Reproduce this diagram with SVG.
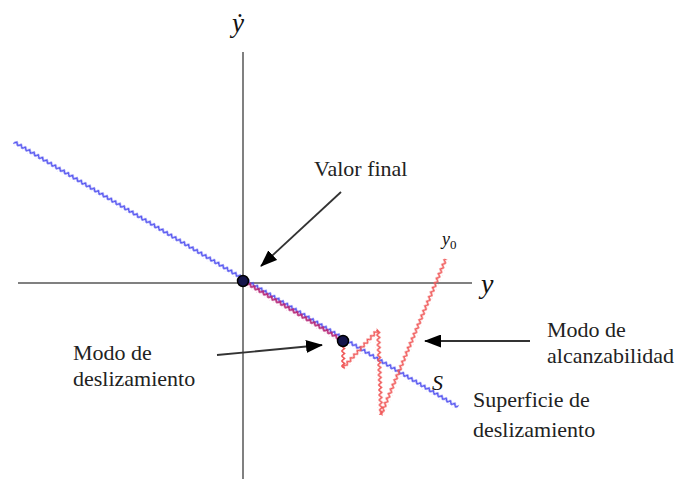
<svg xmlns="http://www.w3.org/2000/svg" width="676" height="479" viewBox="0 0 676 479">
<defs>
<style>
.axis{stroke:#808080;stroke-width:2;fill:none}
.arr{stroke:#333;stroke-width:1.8;fill:none;marker-end:url(#ah)}
.lbl{font-size:22px;fill:#222}
.math{font-style:italic;fill:#111}
.dot{fill:#14144a;stroke:#000;stroke-width:1.5}
</style>
<pattern id="zb" x="0" y="-3" width="5" height="6" patternUnits="userSpaceOnUse"><path d="M0,4.5 L2.5,1.5 L5,4.5" fill="none" stroke="#5050f0" stroke-width="1.6"/></pattern>
<pattern id="zm" x="0" y="-3" width="5" height="6" patternUnits="userSpaceOnUse"><path d="M0,4.5 L2.5,1.5 L5,4.5" fill="none" stroke="#b82a78" stroke-width="1.8"/></pattern>
<pattern id="zr" x="0" y="-3" width="5" height="6" patternUnits="userSpaceOnUse"><path d="M0,4.5 L2.5,1.5 L5,4.5" fill="none" stroke="#f05a5a" stroke-width="1.5"/></pattern>
<marker id="ah" viewBox="0 0 17 13" refX="16" refY="6.5" markerWidth="17" markerHeight="13" markerUnits="userSpaceOnUse" orient="auto"><path d="M0,0 L17,6.5 L0,13 Z" fill="#000"/></marker>
</defs>
<rect width="676" height="479" fill="#fff"/>
<g font-family="'Liberation Serif', 'Times New Roman', serif">
<g id="axes">
<line class="axis" x1="243" y1="52" x2="243" y2="479"/>
<line class="axis" x1="18" y1="283" x2="472" y2="283"/>
<text class="math" x="232" y="32" font-size="27">ẏ</text>
<text class="math" x="481" y="293" font-size="28">y</text>
</g>
<g id="surface">
<g transform="translate(14,142) rotate(30.83)"><rect x="0" y="-3" width="517" height="6" fill="url(#zb)"/></g>
<g transform="translate(243,281) rotate(30.96)"><rect x="0" y="-3" width="117" height="6" fill="url(#zm)"/></g>
<text class="math" x="432" y="390" font-size="22">S</text>
</g>
<g id="trajectory">
<g transform="translate(343,341) rotate(90)"><rect x="0" y="-3" width="27" height="6" fill="url(#zr)"/></g>
<g transform="translate(343,368) rotate(-47.4)"><rect x="0" y="-3" width="52" height="6" fill="url(#zr)"/></g>
<g transform="translate(378,330) rotate(88)"><rect x="0" y="-3" width="85" height="6" fill="url(#zr)"/></g>
<g transform="translate(381,415) rotate(-67.4)"><rect x="0" y="-3" width="169" height="6" fill="url(#zr)"/></g>
<text class="math" x="442" y="245" font-size="18">y<tspan font-style="normal" font-size="13" dy="4">0</tspan></text>
</g>
<g id="origin"><circle class="dot" cx="243" cy="281" r="5.5"/></g>
<g id="reach-point"><circle class="dot" cx="343" cy="341" r="5.5"/></g>
<g id="connectors">
<line class="arr" x1="341" y1="192" x2="261" y2="266"/>
<line class="arr" x1="217" y1="355" x2="322" y2="345"/>
<line class="arr" x1="530" y1="341" x2="425" y2="341"/>
</g>
<g id="label-valor"><text class="lbl" x="314" y="176">Valor final</text></g>
<g id="label-deslizamiento"><text class="lbl" x="73" y="360">Modo de</text><text class="lbl" x="73" y="386">deslizamiento</text></g>
<g id="label-alcanzabilidad"><text class="lbl" x="547" y="337">Modo de</text><text class="lbl" x="547" y="363">alcanzabilidad</text></g>
<g id="label-superficie"><text class="lbl" x="473" y="407">Superficie de</text><text class="lbl" x="473" y="437">deslizamiento</text></g>
</g>
</svg>
